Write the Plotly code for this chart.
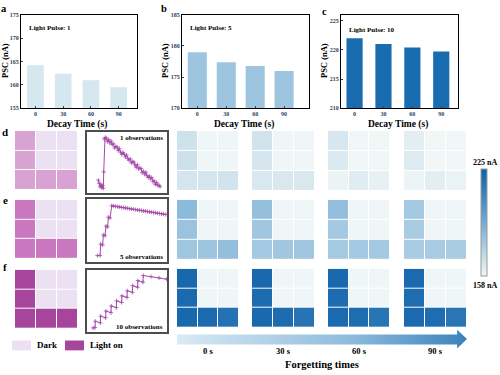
import plotly.graph_objects as go

W, H = 500, 375
FONT = "Liberation Serif, Times New Roman, serif"

# ---------------- data ----------------
decay_times = ["0", "30", "60", "90"]
psc_pulse1 = [164.2, 162.4, 161.0, 159.5]
psc_pulse5 = [179.0, 177.4, 176.8, 176.0]
psc_pulse10 = [222.0, 221.0, 220.4, 219.7]
pulse_labels = ["Light Pulse: 1", "Light Pulse: 5", "Light Pulse: 10"]
bar_ranges = [[155, 175], [170, 185], [210, 226]]
bar_colors = ["#d5e7ef", "#9ec5e0", "#1a6cb0"]

# 3x3 light pattern (top row first): 1 = light on, 0 = dark
light_pattern = [[1, 0, 0], [1, 0, 0], [1, 1, 1]]
pink_on_colors = ["#d8a2d3", "#c977bf", "#a7449c"]
pink_dark_color = "#ece0f3"

# PSC maps (nA), top row first, for forgetting times 0/30/60/90 s
forget_labels = ["0 s", "30 s", "60 s", "90 s"]
maps_pulse1 = [
    [[167.5, 159.0, 159.0], [168.0, 159.0, 159.0], [166.0, 166.0, 166.5]],
    [[166.5, 158.8, 158.8], [165.5, 158.8, 158.8], [164.5, 164.5, 164.5]],
    [[165.0, 158.6, 158.6], [164.0, 158.6, 158.6], [160.0, 163.0, 161.0]],
    [[162.0, 158.6, 158.6], [163.5, 158.6, 158.6], [159.5, 162.0, 160.5]],
]
maps_pulse5 = [
    [[185.0, 159.0, 159.0], [181.0, 159.0, 159.0], [180.0, 180.5, 183.0]],
    [[182.5, 159.0, 159.0], [179.5, 159.0, 159.0], [179.0, 179.5, 179.5]],
    [[183.0, 159.0, 159.0], [178.5, 159.0, 159.0], [178.0, 178.5, 178.5]],
    [[178.5, 159.0, 159.0], [177.0, 159.0, 159.0], [177.0, 177.5, 177.0]],
]
maps_pulse10 = [
    [[221.0, 159.0, 159.0], [220.0, 159.0, 159.0], [221.0, 220.0, 217.0]],
    [[220.5, 159.0, 159.0], [219.5, 159.0, 159.0], [220.5, 219.5, 216.0]],
    [[220.5, 159.0, 159.0], [219.5, 159.0, 159.0], [220.0, 219.0, 215.5]],
    [[220.0, 159.0, 159.0], [219.0, 159.0, 159.0], [220.0, 219.0, 215.0]],
]
psc_min, psc_max = 158, 225

# inset traces (normalised time / response, 0-100)
obs1_t = [14.1, 15.4, 16.3, 17.5, 18.4, 19.6, 20.4, 20.9, 21.6, 22.5,
          24, 25.5, 27, 28.5, 30, 31.5, 33, 34.5, 36, 37.5, 39, 40.5, 42, 43.5,
          45, 46.5, 48, 49.5, 51, 52.5, 54, 55.5, 57, 58.5, 60, 61.5, 63, 64.5,
          66, 67.5, 69, 70.5, 72, 73.5, 75, 76.5, 78, 79.5, 81, 82.5, 84, 85.5,
          87, 88.5, 90, 91.3]
obs1_v = [21.0, 15.6, 10.2, 14.0, 8.5, 11.8, 7.6, 34.4, 88.2, 90.8,
          90.0, 84.3, 87.5, 81.8, 85.0, 79.2, 80.5, 73.7, 76.0, 75.2, 69.4, 72.7,
          66.9, 63.1, 66.4, 63.6, 58.9, 62.1, 56.3, 53.6, 55.8, 49.1, 51.3, 50.5,
          45.8, 42.0, 46.2, 39.5, 40.7, 40.0, 33.2, 35.4, 30.7, 33.9, 28.2, 25.4,
          27.6, 22.9, 25.1, 18.3, 19.6, 13.8, 17.1, 12.3, 12.6, 10.2]
obs5_t = [12.9, 16.3, 17.1, 19.6, 20.4, 22.5, 23.8, 25.8, 26.7, 28.8, 30.9,
          33, 35.5, 38, 40.5, 43, 45.5, 48, 50.5, 53, 55.5, 58, 60.5, 63, 65.5,
          68, 70.5, 73, 75.5, 78, 80.5, 83, 85.5, 88, 90.5, 93, 95.5, 98.5]
obs5_v = [9.8, 9.8, 28.1, 26.6, 42.7, 41.4, 56.7, 55.5, 70.8, 69.5, 89.0,
          88.6, 88.1, 87.5, 87.0, 86.5, 86.0, 85.5, 85.0, 84.4, 83.9, 83.4,
          82.9, 82.4, 81.9, 81.4, 80.8, 80.3, 79.8, 79.3, 78.8, 78.3, 77.8,
          77.2, 76.7, 76.2, 75.7, 75.1]
obs10_t = [7.5, 10.0, 10.3, 16.7, 17.0, 23.3, 23.6, 30.0, 30.3, 36.7, 37.0,
           43.3, 43.6, 50.0, 50.3, 56.7, 57.0, 63.3, 63.6, 70.0, 70.3,
           80.0, 90.0, 99.6]
obs10_v = [6.0, 6.5, 16.8, 14.2, 25.0, 22.4, 33.2, 30.6, 41.4, 38.8, 49.6,
           47.0, 57.8, 55.2, 66.0, 63.4, 74.2, 71.6, 82.4, 79.8, 90.6,
           88.8, 86.8, 84.6]
obs_labels = ["1 observations", "5 observations", "10 observations"]

# ---------------- helpers ----------------
def xd(a, b):
    return [a / W, b / W]

def yd(top, bottom):
    return [1 - bottom / H, 1 - top / H]

fig = go.Figure()
layout = {}
counter = [0]

def new_axes(xdom, ydom, xaxis=None, yaxis=None):
    counter[0] += 1
    n = counter[0]
    s = "" if n == 1 else str(n)
    xa = dict(domain=xdom, anchor="y" + s, showgrid=False, zeroline=False)
    ya = dict(domain=ydom, anchor="x" + s, showgrid=False, zeroline=False)
    if xaxis: xa.update(xaxis)
    if yaxis: ya.update(yaxis)
    layout["xaxis" + s] = xa
    layout["yaxis" + s] = ya
    return "x" + s, "y" + s

ann = []
def text(x, y, t, size=8, xa="center", ya="middle", angle=0, color="black"):
    ann.append(dict(x=x / W, y=1 - y / H, xref="paper", yref="paper", text="<b>" + t + "</b>",
                    showarrow=False, xanchor=xa, yanchor=ya, textangle=angle,
                    font=dict(family=FONT, size=size, color=color)))

# ---------------- bar charts a, b, c ----------------
bar_boxes = [(21, 137, 12, 107), (182, 309, 12, 107), (341, 458, 12, 107)]
xranges = [[-0.52, 3.66], [-0.53, 3.86], [-0.47, 3.58]]
bar_widths = [0.6, 0.66, 0.56]
series = [psc_pulse1, psc_pulse5, psc_pulse10]
letters = ["a", "b", "c"]
letter_pos = [(4, 6), (164, 6), (324, 9)]
ytitle_x = [5, 165, 324]
for i in range(3):
    x0, x1, t0, t1 = bar_boxes[i]
    ax = dict(type="category", range=xranges[i], showline=True, mirror=True,
              linecolor="black", linewidth=1, ticks="inside", ticklen=2,
              tickfont=dict(family=FONT, size=6, weight="bold"))
    ay = dict(range=bar_ranges[i], dtick=5, showline=True, mirror=True,
              linecolor="black", linewidth=1, ticks="inside", ticklen=2,
              tickfont=dict(family=FONT, size=6, weight="bold"))
    xr, yr = new_axes(xd(x0, x1), yd(t0, t1), ax, ay)
    fig.add_trace(go.Bar(x=decay_times, y=series[i], marker_color=bar_colors[i],
                         marker_line_width=0, width=bar_widths[i],
                         xaxis=xr, yaxis=yr, showlegend=False))
    text(x0 + 6, 25 if i < 2 else 27, pulse_labels[i], size=7, xa="left")
    text(letter_pos[i][0], letter_pos[i][1], letters[i], size=10.5)
    text(ytitle_x[i], 59, "PSC (nA)", size=8.5, angle=-90)
    text((x0 + x1) / 2 - 2, 123, "Decay Time (s)", size=9.5)

# ---------------- pink light-pattern grids ----------------
row_tops = [(130, 190), (200, 260), (271, 331)]
grid_axis = dict(range=[-0.5, 2.5], showticklabels=False, ticks="", showline=False)
grid_yaxis = dict(range=[2.5, -0.5], showticklabels=False, ticks="", showline=False)
for r in range(3):
    t0, t1 = row_tops[r]
    xr, yr = new_axes(xd(15, 78), yd(t0, t1), grid_axis, grid_yaxis)
    fig.add_trace(go.Heatmap(z=light_pattern, xaxis=xr, yaxis=yr, zmin=0, zmax=1,
                             colorscale=[[0, pink_dark_color], [1, pink_on_colors[r]]],
                             showscale=False, xgap=1, ygap=1, hoverinfo="skip"))

# ---------------- insets ----------------
inset_boxes = [(131, 193), (199, 263), (271, 334)]
obs = [(obs1_t, obs1_v), (obs5_t, obs5_v), (obs10_t, obs10_v)]
inset_ax = dict(range=[0, 100], showline=True, mirror=True, linecolor="#4d4d4d",
                linewidth=1.5, ticks="", showticklabels=False)
for r in range(3):
    t0, t1 = inset_boxes[r]
    xr, yr = new_axes(xd(87, 167), yd(t0, t1), inset_ax, inset_ax)
    fig.add_trace(go.Scatter(x=obs[r][0], y=obs[r][1], mode="lines+markers",
                             line=dict(color="#a548a8", width=1),
                             marker=dict(symbol="cross-thin", size=3,
                                         line=dict(color="#a548a8", width=0.8)),
                             xaxis=xr, yaxis=yr, showlegend=False))
    if r == 0:
        text(165, 137, obs_labels[r], size=7, xa="right")
    else:
        text(165, t1 - 5, obs_labels[r], size=7, xa="right")

# ---------------- blue PSC maps ----------------
col_x = [(177, 239), (252, 315), (328, 390), (404, 467)]
blue_rows = [(130, 191), (200, 261), (270, 330)]
maps = [maps_pulse1, maps_pulse5, maps_pulse10]
for r in range(3):
    t0, t1 = blue_rows[r]
    for c in range(4):
        xr, yr = new_axes(xd(*col_x[c]), yd(t0, t1), grid_axis, grid_yaxis)
        fig.add_trace(go.Heatmap(z=maps[r][c], xaxis=xr, yaxis=yr, coloraxis="coloraxis",
                                 xgap=1, ygap=1, hoverinfo="skip"))

# row letters
text(5, 131, "d", size=11)
text(5, 200, "e", size=11)
text(5, 268, "f", size=11)

# ---------------- arrow ----------------
xr, yr = new_axes(xd(177, 467), yd(332, 351),
                  dict(range=[0, 1], visible=False), dict(range=[0, 1], visible=False))
fig.add_trace(go.Scatter(x=[0, 0.966, 0.966, 1, 0.966, 0.966, 0, 0],
                         y=[0.21, 0.21, 0.0, 0.5, 1.0, 0.74, 0.74, 0.21],
                         mode="lines", line=dict(width=0), fill="toself",
                         fillgradient=dict(type="horizontal",
                                           colorscale=[[0, "#d9eaf4"], [0.6, "#8dbbdc"], [1, "#3a82bc"]]),
                         xaxis=xr, yaxis=yr, showlegend=False, hoverinfo="skip"))
for c in range(4):
    text((col_x[c][0] + col_x[c][1]) / 2, 354, forget_labels[c], size=8.5)
text(322, 367, "Forgetting times", size=10.5)

# ---------------- legend ----------------
shapes = [
    dict(type="rect", xref="paper", yref="paper", x0=12 / W, x1=31 / W,
         y0=1 - 353 / H, y1=1 - 343 / H, fillcolor=pink_dark_color, line_width=0),
    dict(type="rect", xref="paper", yref="paper", x0=65 / W, x1=84 / W,
         y0=1 - 353 / H, y1=1 - 343 / H, fillcolor=pink_on_colors[2], line_width=0),
]
text(35, 348, "Dark", size=9, xa="left")
text(88, 348, "Light on", size=9, xa="left")

# colorbar labels
text(485, 162, f"{psc_max} nA", size=8)
text(485, 287, f"{psc_min} nA", size=8)

layout.update(dict(
    width=W, height=H, margin=dict(l=0, r=0, t=0, b=0), autosize=False,
    paper_bgcolor="white", plot_bgcolor="white", showlegend=False,
    font=dict(family=FONT),
    annotations=ann, shapes=shapes,
    coloraxis=dict(cmin=psc_min, cmax=psc_max,
                   colorscale=[[0, "#f3f8f8"], [0.1, "#d8e8ef"], [0.3, "#a6cae2"],
                               [0.6, "#5a9ccc"], [1, "#0d5fa8"]],
                   colorbar=dict(x=481 / W, xanchor="left", y=1 - 223 / H, yanchor="middle",
                                 len=107, lenmode="pixels", thickness=6, xpad=0, ypad=0,
                                 outlinewidth=1, outlinecolor="#999999",
                                 showticklabels=False, ticks="")),
))
fig.update_layout(layout)
fig.write_html("out.html", config={"displayModeBar": False},
               post_script="document.body.style.margin='0';document.body.style.padding='0';")
